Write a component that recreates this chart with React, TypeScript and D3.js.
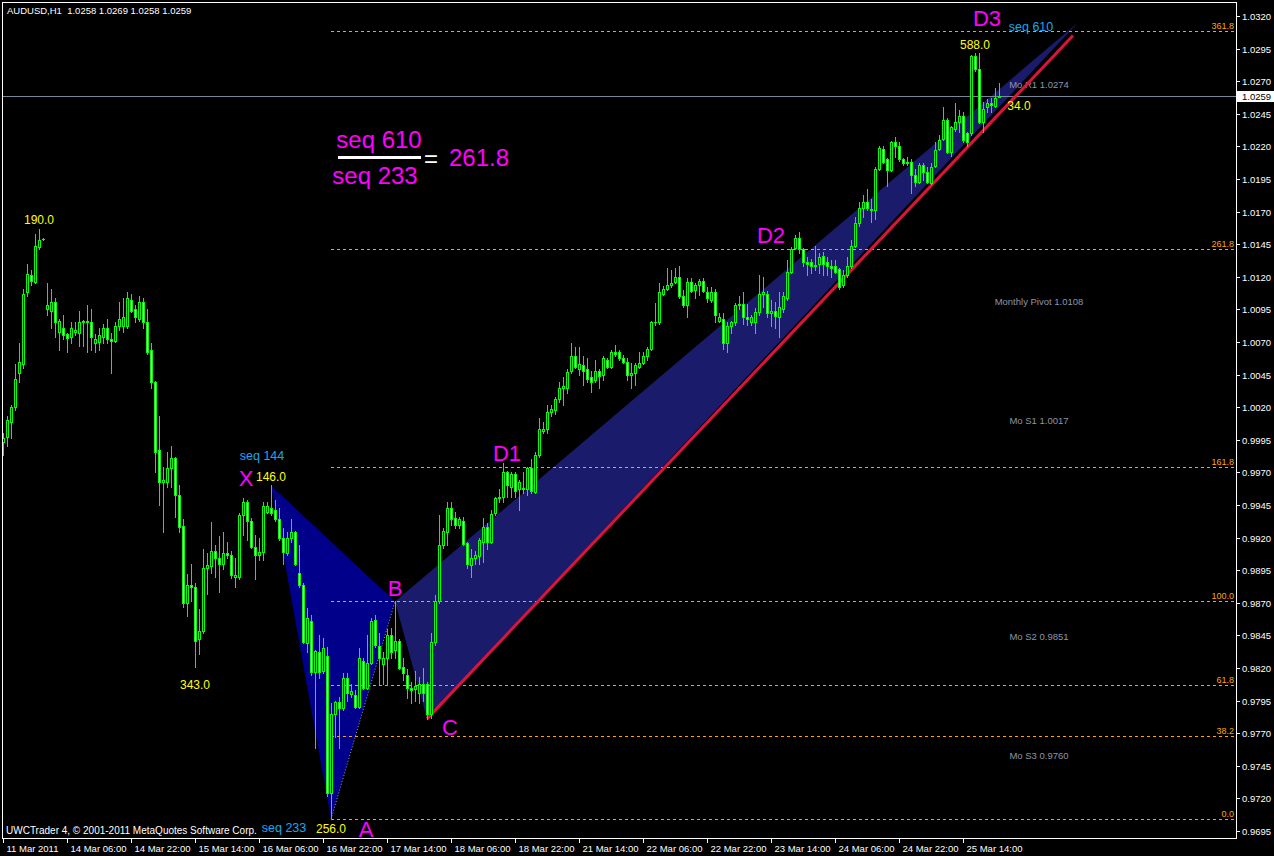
import React from "react";
import * as d3 from "d3";

const W = 1274;
const H = 856;

// ---- OHLC data (AUDUSD H1), one entry per bar ----
const opens = [
  0.9993, 0.9997, 1.0009, 1.0020, 1.0046, 1.0053, 1.0108, 1.0121, 1.0116, 1.0143,
  1.0149, 1.0095, 1.0094, 1.0101, 1.0078, 1.0081, 1.0076, 1.0074, 1.0078, 1.0077,
  1.0085, 1.0086, 1.0085, 1.0069, 1.0070, 1.0074, 1.0081, 1.0072, 1.0071, 1.0082,
  1.0082, 1.0082, 1.0102, 1.0095, 1.0088, 1.0101, 1.0085, 1.0064, 1.0039, 0.9987,
  0.9963, 0.9963, 0.9973, 0.9981, 0.9953, 0.9929, 0.9870, 0.9884, 0.9882, 0.9842,
  0.9848, 0.9897, 0.9898, 0.9910, 0.9904, 0.9900, 0.9908, 0.9907, 0.9890, 0.9890,
  0.9937, 0.9947, 0.9933, 0.9913, 0.9907, 0.9909, 0.9940, 0.9943, 0.9941, 0.9934,
  0.9920, 0.9908, 0.9920, 0.9924, 0.9893, 0.9884, 0.9839, 0.9856, 0.9817, 0.9832,
  0.9818, 0.9829, 0.9724, 0.9785, 0.9794, 0.9789, 0.9812, 0.9800, 0.9799, 0.9790,
  0.9825, 0.9805, 0.9824, 0.9857, 0.9837, 0.9823, 0.9828, 0.9845, 0.9834, 0.9841,
  0.9821, 0.9815, 0.9805, 0.9804, 0.9801, 0.9808, 0.9808, 0.9785, 0.9840, 0.9871,
  0.9914, 0.9924, 0.9943, 0.9935, 0.9930, 0.9933, 0.9916, 0.9899, 0.9904, 0.9906,
  0.9917, 0.9928, 0.9917, 0.9939, 0.9950, 0.9951, 0.9970, 0.9959, 0.9969, 0.9957,
  0.9958, 0.9957, 0.9973, 0.9955, 0.9983, 1.0002, 1.0003, 1.0016, 1.0018, 1.0026,
  1.0035, 1.0035, 1.0048, 1.0059, 1.0049, 1.0052, 1.0049, 1.0043, 1.0041, 1.0048,
  1.0045, 1.0056, 1.0051, 1.0062, 1.0062, 1.0058, 1.0055, 1.0045, 1.0046, 1.0051,
  1.0054, 1.0059, 1.0065, 1.0085, 1.0085, 1.0107, 1.0111, 1.0114, 1.0116, 1.0120,
  1.0105, 1.0098, 1.0116, 1.0110, 1.0114, 1.0117, 1.0108, 1.0102, 1.0108, 1.0086,
  1.0088, 1.0069, 1.0082, 1.0085, 1.0098, 1.0099, 1.0089, 1.0085, 1.0085, 1.0093,
  1.0107, 1.0107, 1.0092, 1.0094, 1.0089, 1.0095, 1.0104, 1.0124, 1.0142, 1.0150,
  1.0141, 1.0131, 1.0131, 1.0128, 1.0130, 1.0136, 1.0131, 1.0128, 1.0128, 1.0126,
  1.0114, 1.0121, 1.0128, 1.0144, 1.0161, 1.0173, 1.0177, 1.0172, 1.0171, 1.0203,
  1.0218, 1.0210, 1.0202, 1.0223, 1.0220, 1.0210, 1.0207, 1.0208, 1.0198, 1.0193,
  1.0206, 1.0200, 1.0192, 1.0205, 1.0218, 1.0226, 1.0240, 1.0216, 1.0233, 1.0239,
  1.0243, 1.0230, 1.0230, 1.0289, 1.0279, 1.0239, 1.0250, 1.0253, 1.0251, 1.0258,
];
const highs = [
  1.0000, 1.0013, 1.0022, 1.0053, 1.0069, 1.0111, 1.0130, 1.0125, 1.0153, 1.0157,
  1.0150, 1.0115, 1.0111, 1.0104, 1.0088, 1.0091, 1.0077, 1.0085, 1.0085, 1.0094,
  1.0087, 1.0098, 1.0095, 1.0076, 1.0081, 1.0084, 1.0088, 1.0077, 1.0085, 1.0101,
  1.0104, 1.0108, 1.0107, 1.0098, 1.0105, 1.0104, 1.0095, 1.0069, 1.0040, 1.0013,
  0.9974, 0.9986, 0.9990, 0.9982, 0.9960, 0.9934, 0.9892, 0.9900, 0.9885, 0.9865,
  0.9911, 0.9908, 0.9932, 0.9914, 0.9921, 0.9924, 0.9917, 0.9910, 0.9904, 0.9939,
  0.9950, 0.9949, 0.9935, 0.9922, 0.9920, 0.9947, 0.9947, 0.9960, 0.9949, 0.9943,
  0.9927, 0.9924, 0.9934, 0.9925, 0.9914, 0.9885, 0.9866, 0.9861, 0.9834, 0.9845,
  0.9843, 0.9836, 0.9793, 0.9795, 0.9798, 0.9816, 0.9816, 0.9808, 0.9803, 0.9835,
  0.9828, 0.9845, 0.9858, 0.9861, 0.9847, 0.9832, 0.9850, 0.9851, 0.9871, 0.9842,
  0.9828, 0.9819, 0.9809, 0.9818, 0.9813, 0.9820, 0.9809, 0.9847, 0.9876, 0.9937,
  0.9927, 0.9947, 0.9947, 0.9940, 0.9936, 0.9936, 0.9917, 0.9911, 0.9910, 0.9920,
  0.9935, 0.9931, 0.9941, 0.9951, 0.9957, 0.9977, 0.9971, 0.9970, 0.9970, 0.9964,
  0.9970, 0.9974, 0.9980, 0.9986, 1.0012, 1.0009, 1.0022, 1.0022, 1.0028, 1.0039,
  1.0043, 1.0049, 1.0069, 1.0066, 1.0066, 1.0059, 1.0058, 1.0048, 1.0056, 1.0049,
  1.0059, 1.0058, 1.0064, 1.0068, 1.0064, 1.0060, 1.0058, 1.0054, 1.0054, 1.0062,
  1.0062, 1.0066, 1.0086, 1.0100, 1.0115, 1.0113, 1.0127, 1.0125, 1.0127, 1.0128,
  1.0110, 1.0119, 1.0119, 1.0115, 1.0118, 1.0119, 1.0112, 1.0112, 1.0111, 1.0092,
  1.0092, 1.0085, 1.0086, 1.0100, 1.0105, 1.0108, 1.0099, 1.0091, 1.0096, 1.0121,
  1.0120, 1.0109, 1.0102, 1.0101, 1.0108, 1.0108, 1.0133, 1.0143, 1.0152, 1.0154,
  1.0142, 1.0135, 1.0134, 1.0144, 1.0138, 1.0139, 1.0135, 1.0133, 1.0133, 1.0127,
  1.0125, 1.0135, 1.0148, 1.0166, 1.0177, 1.0183, 1.0187, 1.0180, 1.0204, 1.0220,
  1.0220, 1.0211, 1.0224, 1.0227, 1.0223, 1.0211, 1.0212, 1.0210, 1.0203, 1.0207,
  1.0207, 1.0204, 1.0207, 1.0223, 1.0229, 1.0250, 1.0242, 1.0236, 1.0253, 1.0248,
  1.0246, 1.0231, 1.0290, 1.0292, 1.0292, 1.0254, 1.0256, 1.0257, 1.0265, 1.0269,
];
const lows = [
  0.9983, 0.9990, 0.9996, 1.0018, 1.0039, 1.0050, 1.0105, 1.0114, 1.0115, 1.0141,
  1.0148, 1.0091, 1.0081, 1.0074, 1.0064, 1.0072, 1.0062, 1.0069, 1.0075, 1.0067,
  1.0067, 1.0062, 1.0064, 1.0062, 1.0064, 1.0069, 1.0069, 1.0046, 1.0070, 1.0079,
  1.0078, 1.0081, 1.0093, 1.0085, 1.0086, 1.0081, 1.0061, 1.0035, 0.9970, 0.9945,
  0.9924, 0.9959, 0.9959, 0.9936, 0.9924, 0.9867, 0.9860, 0.9871, 0.9821, 0.9831,
  0.9847, 0.9877, 0.9893, 0.9890, 0.9878, 0.9896, 0.9904, 0.9889, 0.9882, 0.9888,
  0.9922, 0.9918, 0.9912, 0.9888, 0.9903, 0.9903, 0.9939, 0.9937, 0.9933, 0.9918,
  0.9900, 0.9907, 0.9917, 0.9899, 0.9882, 0.9839, 0.9832, 0.9815, 0.9759, 0.9812,
  0.9816, 0.9722, 0.9704, 0.9767, 0.9759, 0.9788, 0.9795, 0.9798, 0.9789, 0.9789,
  0.9804, 0.9804, 0.9823, 0.9836, 0.9808, 0.9808, 0.9807, 0.9828, 0.9828, 0.9819,
  0.9811, 0.9797, 0.9793, 0.9795, 0.9793, 0.9795, 0.9781, 0.9782, 0.9838, 0.9870,
  0.9912, 0.9914, 0.9930, 0.9927, 0.9927, 0.9914, 0.9897, 0.9890, 0.9900, 0.9900,
  0.9901, 0.9911, 0.9916, 0.9937, 0.9947, 0.9947, 0.9951, 0.9951, 0.9951, 0.9941,
  0.9954, 0.9953, 0.9954, 0.9954, 0.9982, 1.0000, 1.0000, 1.0013, 1.0015, 1.0024,
  1.0022, 1.0031, 1.0046, 1.0050, 1.0045, 1.0037, 1.0039, 1.0032, 1.0039, 1.0035,
  1.0041, 1.0050, 1.0050, 1.0059, 1.0056, 1.0054, 1.0041, 1.0035, 1.0037, 1.0050,
  1.0053, 1.0056, 1.0064, 1.0083, 1.0084, 1.0106, 1.0110, 1.0112, 1.0115, 1.0104,
  1.0097, 1.0089, 1.0108, 1.0104, 1.0106, 1.0108, 1.0101, 1.0101, 1.0085, 1.0085,
  1.0065, 1.0062, 1.0077, 1.0083, 1.0095, 1.0084, 1.0083, 1.0083, 1.0077, 1.0091,
  1.0097, 1.0089, 1.0082, 1.0081, 1.0074, 1.0093, 1.0102, 1.0123, 1.0141, 1.0138,
  1.0128, 1.0121, 1.0123, 1.0125, 1.0123, 1.0121, 1.0121, 1.0120, 1.0123, 1.0111,
  1.0112, 1.0120, 1.0127, 1.0143, 1.0159, 1.0166, 1.0171, 1.0162, 1.0164, 1.0202,
  1.0207, 1.0190, 1.0201, 1.0212, 1.0209, 1.0206, 1.0206, 1.0184, 1.0190, 1.0192,
  1.0194, 1.0192, 1.0191, 1.0204, 1.0217, 1.0225, 1.0215, 1.0213, 1.0232, 1.0231,
  1.0223, 1.0220, 1.0229, 1.0278, 1.0238, 1.0231, 1.0246, 1.0246, 1.0250, 1.0258,
];
const closes = [
  0.9996, 1.0010, 1.0020, 1.0042, 1.0055, 1.0107, 1.0122, 1.0117, 1.0144, 1.0148,
  1.0149, 1.0098, 1.0101, 1.0085, 1.0086, 1.0075, 1.0073, 1.0081, 1.0079, 1.0085,
  1.0086, 1.0085, 1.0074, 1.0072, 1.0075, 1.0081, 1.0072, 1.0071, 1.0082, 1.0088,
  1.0089, 1.0104, 1.0094, 1.0089, 1.0101, 1.0085, 1.0062, 1.0039, 0.9986, 0.9963,
  0.9964, 0.9973, 0.9981, 0.9953, 0.9928, 0.9870, 0.9884, 0.9882, 0.9841, 0.9848,
  0.9897, 0.9899, 0.9910, 0.9904, 0.9900, 0.9908, 0.9907, 0.9891, 0.9891, 0.9937,
  0.9947, 0.9933, 0.9913, 0.9907, 0.9909, 0.9944, 0.9944, 0.9939, 0.9934, 0.9920,
  0.9909, 0.9920, 0.9924, 0.9900, 0.9884, 0.9840, 0.9858, 0.9817, 0.9833, 0.9817,
  0.9835, 0.9724, 0.9785, 0.9794, 0.9789, 0.9812, 0.9801, 0.9802, 0.9790, 0.9828,
  0.9805, 0.9824, 0.9856, 0.9838, 0.9828, 0.9828, 0.9845, 0.9832, 0.9841, 0.9820,
  0.9816, 0.9805, 0.9803, 0.9806, 0.9808, 0.9801, 0.9785, 0.9840, 0.9871, 0.9914,
  0.9925, 0.9943, 0.9934, 0.9930, 0.9934, 0.9915, 0.9900, 0.9904, 0.9907, 0.9918,
  0.9928, 0.9917, 0.9938, 0.9950, 0.9951, 0.9970, 0.9960, 0.9969, 0.9956, 0.9963,
  0.9957, 0.9973, 0.9956, 0.9983, 1.0003, 1.0003, 1.0016, 1.0019, 1.0026, 1.0035,
  1.0036, 1.0047, 1.0059, 1.0051, 1.0053, 1.0048, 1.0042, 1.0039, 1.0048, 1.0044,
  1.0058, 1.0051, 1.0062, 1.0061, 1.0058, 1.0055, 1.0045, 1.0046, 1.0052, 1.0054,
  1.0059, 1.0065, 1.0085, 1.0085, 1.0108, 1.0111, 1.0114, 1.0115, 1.0120, 1.0105,
  1.0098, 1.0116, 1.0109, 1.0114, 1.0117, 1.0109, 1.0104, 1.0108, 1.0091, 1.0089,
  1.0069, 1.0082, 1.0085, 1.0098, 1.0099, 1.0089, 1.0088, 1.0089, 1.0093, 1.0107,
  1.0108, 1.0092, 1.0094, 1.0090, 1.0097, 1.0105, 1.0124, 1.0141, 1.0150, 1.0141,
  1.0131, 1.0130, 1.0128, 1.0129, 1.0135, 1.0130, 1.0128, 1.0127, 1.0124, 1.0112,
  1.0121, 1.0128, 1.0144, 1.0161, 1.0173, 1.0177, 1.0173, 1.0171, 1.0203, 1.0219,
  1.0208, 1.0202, 1.0223, 1.0220, 1.0210, 1.0207, 1.0208, 1.0198, 1.0193, 1.0206,
  1.0200, 1.0193, 1.0204, 1.0217, 1.0225, 1.0240, 1.0216, 1.0235, 1.0239, 1.0243,
  1.0225, 1.0223, 1.0289, 1.0279, 1.0239, 1.0249, 1.0253, 1.0252, 1.0257, 1.0259,
];

// ---- axis labels ----
const timeLabels = [
  "11 Mar 2011", "14 Mar 06:00", "14 Mar 22:00", "15 Mar 14:00", "16 Mar 06:00",
  "16 Mar 22:00", "17 Mar 14:00", "18 Mar 06:00", "18 Mar 22:00", "21 Mar 14:00",
  "22 Mar 06:00", "22 Mar 22:00", "23 Mar 14:00", "24 Mar 06:00", "24 Mar 22:00",
  "25 Mar 14:00",
];
const barsPerTimeTick = 16;
const priceLow = 0.9695;
const priceHigh = 1.032;
const priceStep = 0.0025;
const header = "AUDUSD,H1  1.0258 1.0269 1.0258 1.0259";
const lastPrice = 1.0259;

// ---- fibonacci levels (from A low to B high) ----
const fibRatios = [0, 38.2, 61.8, 100, 161.8, 261.8, 361.8];
const fibBase = 0.9704;
const fibTop = 0.9871;
const fibStartBar = 82;

// ---- monthly pivots ----
const pivotNames = ["Mo R1", "Monthly Pivot", "Mo S1", "Mo S2", "Mo S3"];
const pivotValues = [1.0274, 1.0108, 1.0017, 0.9851, 0.976];
const pivotLabelBar = 259;

// ---- harmonic pattern points ----
const patternBars = [67, 82, 98, 106, 268.75]; // X A B C D
const patternPrices = [0.996, 0.9704, 0.9871, 0.9781, 1.0315];
const trendBars = [106, 267.5];
const trendPrices = [0.9781, 1.0305];

const FONT = "'Liberation Sans', Arial, sans-serif";
const LIME = "#00FF00";
const MAGENTA = "#FF00FF";
const YELLOW = "#FFFF00";
const SEQ = "#14A8F0";
const ORANGE = "#FFA500";

export default function App() {
  const x = d3.scaleLinear().domain([0, 1]).range([3, 7]);
  const y = d3.scaleLinear().domain([priceLow, priceHigh]).range([831, 16]);

  const plotLeft = 2;
  const plotRight = 1236;
  const plotTop = 2;
  const plotBottom = 838;

  const priceTicks = d3.range(0, Math.round((priceHigh - priceLow) / priceStep) + 1).map(
    (k) => priceLow + k * priceStep
  );

  const P = patternBars.map((b, i) => [x(b), y(patternPrices[i])] as [number, number]);
  const [pX, pA, pB, pC, pD] = P;
  const line = d3.line<[number, number]>();

  const fibLevels = fibRatios.map((r) => fibBase + (r / 100) * (fibTop - fibBase));

  const candles = opens.map((o, i) => {
    const cx = Math.round(x(i));
    const yH = Math.round(y(highs[i]));
    const yL = Math.round(y(lows[i]));
    const yO = Math.round(y(o));
    const yC = Math.round(y(closes[i]));
    const top = Math.min(yO, yC);
    const bot = Math.max(yO, yC);
    const bull = closes[i] >= o;
    return (
      <g key={i}>
        <rect x={cx} y={yH} width={1} height={yL - yH + 1} fill={LIME} />
        <rect x={cx - 1} y={top} width={3} height={bot - top + 1} fill={LIME} />
        {bot - top >= 2 && (
          <rect x={cx} y={top + 1} width={1} height={bot - top - 1} fill={bull ? "#000" : "#FFFFFF"} />
        )}
      </g>
    );
  });

  const yLast = Math.round(y(lastPrice)) + 0.5;

  return (
    <svg
      width={W}
      height={H}
      style={{ position: "absolute", left: 0, top: 0, display: "block" }}
      shapeRendering="crispEdges"
    >
      <rect x={0} y={0} width={W} height={H} fill="#000" />

      {/* pattern polygons */}
      <path d={line([pX, pA, pB])! + "Z"} fill="#00008B" shapeRendering="auto" />
      <path d={line([pB, pC, pD])! + "Z"} fill="#1B1B6C" shapeRendering="auto" />
      <path d={line([pA, pB])!} stroke="#9A9A9A" strokeWidth={1} strokeDasharray="1,2" fill="none" shapeRendering="auto" />

      {/* pivot labels */}
      {pivotNames.map((n, i) => (
        <text
          key={n}
          x={x(pivotLabelBar)}
          y={y(pivotValues[i]) + 12.5}
          fill="#8C96A8"
          fontFamily={FONT}
          fontSize={9.5}
          textAnchor="middle"
        >
          {`${n} ${pivotValues[i].toFixed(4)}`}
        </text>
      ))}

      {/* fib levels */}
      {fibLevels.map((lv, i) => {
        const yy = Math.round(y(lv)) + 0.5;
        return (
          <g key={i}>
            <line x1={x(fibStartBar)} x2={plotRight - 1} y1={yy} y2={yy} stroke={ORANGE} strokeDasharray="3,3" />
            <text x={plotRight - 2} y={yy - 3} fill={ORANGE} fontFamily={FONT} fontSize={9} textAnchor="end">
              {fibRatios[i].toFixed(1)}
            </text>
          </g>
        );
      })}

      {/* current price line */}
      <line x1={plotLeft} x2={plotRight} y1={yLast} y2={yLast} stroke="#778899" />

      {/* trend line */}
      <line
        x1={x(trendBars[0])}
        y1={y(trendPrices[0])}
        x2={x(trendBars[1])}
        y2={y(trendPrices[1])}
        stroke="#DC143C"
        strokeWidth={3}
        shapeRendering="auto"
      />

      {/* candles */}
      {candles}

      {/* pattern labels */}
      <g fontFamily={FONT}>
        <text x={x(9)} y={y(highs[9]) - 5} fill={YELLOW} fontSize={12} textAnchor="middle">190.0</text>
        <text x={x(48)} y={y(lows[48]) + 22} fill={YELLOW} fontSize={12} textAnchor="middle">343.0</text>
        <text x={pX[0]} y={pX[1] - 4} fill={YELLOW} fontSize={12} textAnchor="middle">146.0</text>
        <text x={pX[0] - 9} y={pX[1] - 25} fill={SEQ} fontSize={12.5} textAnchor="middle">seq 144</text>
        <text x={pX[0] - 25} y={pX[1] + 1} fill={MAGENTA} fontSize={22} textAnchor="middle">X</text>
        <text x={pA[0]} y={pA[1] + 14} fill={YELLOW} fontSize={12} textAnchor="middle">256.0</text>
        <text x={pA[0] - 47} y={pA[1] + 13} fill={SEQ} fontSize={12.5} textAnchor="middle">seq 233</text>
        <text x={pA[0] + 35} y={pA[1] + 18} fill={MAGENTA} fontSize={22} textAnchor="middle">A</text>
        <text x={pB[0]} y={pB[1] - 5} fill={MAGENTA} fontSize={22} textAnchor="middle">B</text>
        <text x={pC[0] + 23} y={pC[1] + 16} fill={MAGENTA} fontSize={22} textAnchor="middle">C</text>
        <text x={x(126)} y={y(fibLevels[4]) - 6} fill={MAGENTA} fontSize={22} textAnchor="middle">D1</text>
        <text x={x(192)} y={y(fibLevels[5]) - 6} fill={MAGENTA} fontSize={22} textAnchor="middle">D2</text>
        <text x={x(246)} y={y(fibLevels[6]) - 5} fill={MAGENTA} fontSize={22} textAnchor="middle">D3</text>
        <text x={x(257)} y={y(fibLevels[6])} fill={SEQ} fontSize={12.5} textAnchor="middle">seq 610</text>
        <text x={x(243)} y={y(highs[243]) - 4} fill={YELLOW} fontSize={12} textAnchor="middle">588.0</text>
        <text x={x(249) + 20} y={y(lastPrice) + 14} fill={YELLOW} fontSize={12} textAnchor="middle">34.0</text>

        {/* ratio formula */}
        <text x={379} y={148} fill={MAGENTA} fontSize={24} textAnchor="middle">seq 610</text>
        <rect x={338} y={156} width={83} height={3} fill="#FFFFFF" />
        <text x={375} y={184} fill={MAGENTA} fontSize={24} textAnchor="middle">seq 233</text>
        <text x={431} y={167} fill="#FFFFFF" fontSize={24} textAnchor="middle">=</text>
        <text x={449} y={166} fill={MAGENTA} fontSize={24}>261.8</text>
      </g>

      {/* frame */}
      <rect
        x={plotLeft + 0.5}
        y={plotTop + 0.5}
        width={plotRight - plotLeft}
        height={plotBottom - plotTop}
        fill="none"
        stroke="#FFFFFF"
      />

      {/* header & copyright */}
      <text x={7} y={14} fill="#FFFFFF" fontFamily={FONT} fontSize={9.5} style={{ whiteSpace: "pre" }}>
        {header}
      </text>
      <text x={6} y={834} fill="#FFFFFF" fontFamily={FONT} fontSize={10}>
        UWCTrader 4, © 2001-2011 MetaQuotes Software Corp.
      </text>

      {/* price axis */}
      {priceTicks.map((p, i) => {
        const yy = Math.round(y(p)) + 0.5;
        return (
          <g key={i}>
            <line x1={plotRight + 1} x2={plotRight + 4} y1={yy} y2={yy} stroke="#FFFFFF" />
            <text x={plotRight + 6} y={yy + 3.5} fill="#FFFFFF" fontFamily={FONT} fontSize={9.5}>
              {p.toFixed(4)}
            </text>
          </g>
        );
      })}
      <rect x={plotRight + 1} y={Math.round(y(lastPrice)) - 5} width={W - plotRight - 1} height={11} fill="#FFFFFF" />
      <text x={plotRight + 6} y={Math.round(y(lastPrice)) + 4} fill="#000" fontFamily={FONT} fontSize={9.5}>
        {lastPrice.toFixed(4)}
      </text>

      {/* time axis */}
      {timeLabels.map((t, i) => {
        const xx = Math.round(x(i * barsPerTimeTick)) + 0.5;
        return (
          <g key={t}>
            <line x1={xx} x2={xx} y1={plotBottom + 1} y2={plotBottom + 5} stroke="#FFFFFF" />
            <text x={xx + 3} y={852} fill="#FFFFFF" fontFamily={FONT} fontSize={9.5}>
              {t}
            </text>
          </g>
        );
      })}
    </svg>
  );
}
